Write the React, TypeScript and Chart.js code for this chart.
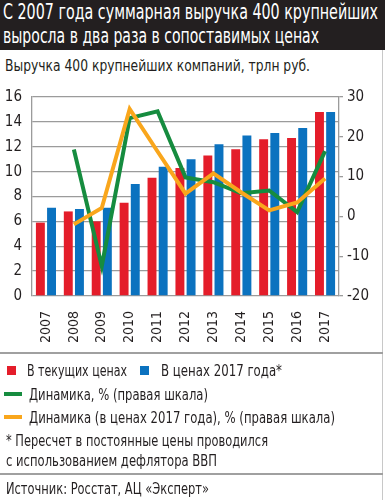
import React, { useEffect, useRef } from "react";
import { Chart, registerables } from "chart.js";

Chart.register(...registerables);

const years = ["2007", "2008", "2009", "2010", "2011", "2012", "2013", "2014", "2015", "2016", "2017"];
const currentPrices = [5.9, 6.8, 6.0, 7.5, 9.5, 10.3, 11.3, 11.8, 12.6, 12.7, 14.8];
const prices2017 = [7.1, 7.0, 7.1, 9.0, 10.4, 11.0, 12.2, 12.9, 13.1, 13.5, 14.8];
const dynamics = [null, 16.8, -12.5, 24.7, 26.4, 9.8, 8.6, 5.8, 6.5, 1.1, 16.4];
const dynamics2017 = [null, -2.0, 2.1, 27.0, 16.3, 5.7, 10.8, 6.0, 1.5, 3.5, 9.5];
const leftTicks = [0, 2, 4, 6, 8, 10, 12, 14, 16];
const rightTicks = [-20, -10, 0, 10, 20, 30];

const RED = "#e41d2a";
const BLUE = "#0b72bf";
const GREEN = "#168c3f";
const ORANGE = "#f9a61c";
const GRID = "#9b9b9b";
const TEXT = "#231f20";
const FONT = "'DejaVu Sans Condensed', 'DejaVu Sans', sans-serif";

let measureCtx: CanvasRenderingContext2D | null = null;
function measure(text: string, size: number): number {
  if (!measureCtx) measureCtx = document.createElement("canvas").getContext("2d");
  if (!measureCtx) return text.length * size * 0.5;
  measureCtx.font = `${size}px ${FONT}`;
  return measureCtx.measureText(text).width;
}

function Fit(props: { text: string; left: number; top: number; width: number; size: number; lh?: number; color?: string }) {
  const { text, left, top, width, size, lh = 20, color = TEXT } = props;
  const sx = width / measure(text, size);
  return (
    <div
      style={{
        position: "absolute",
        left,
        top,
        fontSize: size,
        lineHeight: `${lh}px`,
        color,
        fontFamily: FONT,
        whiteSpace: "nowrap",
        transform: `scaleX(${sx})`,
        transformOrigin: "left top",
      }}
    >
      {text}
    </div>
  );
}

export default function App() {
  const ref = useRef<HTMLCanvasElement | null>(null);

  useEffect(() => {
    document.body.style.margin = "0";
    const canvas = ref.current;
    if (!canvas) return;
    const chart = new Chart(canvas, {
      type: "bar",
      data: {
        labels: years,
        datasets: [
          {
            type: "line",
            label: "Динамика, % (правая шкала)",
            data: dynamics,
            borderColor: GREEN,
            backgroundColor: GREEN,
            borderWidth: 4,
            pointRadius: 0,
            tension: 0,
            yAxisID: "y1",
            order: 1,
          } as any,
          {
            type: "line",
            label: "Динамика (в ценах 2017 года), % (правая шкала)",
            data: dynamics2017,
            borderColor: ORANGE,
            backgroundColor: ORANGE,
            borderWidth: 4,
            pointRadius: 0,
            tension: 0,
            yAxisID: "y1",
            order: 0,
          } as any,
          {
            type: "bar",
            label: "В текущих ценах",
            data: currentPrices,
            backgroundColor: RED,
            yAxisID: "y",
            order: 2,
            categoryPercentage: 0.8,
            barPercentage: 0.8,
          } as any,
          {
            type: "bar",
            label: "В ценах 2017 года*",
            data: prices2017,
            backgroundColor: BLUE,
            yAxisID: "y",
            order: 3,
            categoryPercentage: 0.8,
            barPercentage: 0.8,
          } as any,
        ],
      },
      options: {
        animation: false,
        responsive: false,
        maintainAspectRatio: false,
        layout: { padding: { top: 12, left: 0, right: 0, bottom: 0 } },
        plugins: { legend: { display: false }, tooltip: { enabled: false } },
        scales: {
          x: {
            grid: { display: false },
            border: { display: false },
            ticks: {
              autoSkip: false,
              minRotation: 90,
              maxRotation: 90,
              padding: 7,
              color: TEXT,
              font: { family: FONT, size: 14 },
            },
            afterFit: (s: any) => {
              s.height = 55;
            },
          },
          y: {
            position: "left",
            min: 0,
            max: 16,
            afterBuildTicks: (s: any) => {
              s.ticks = leftTicks.map((v) => ({ value: v }));
            },
            grid: { color: GRID, lineWidth: 1.3, drawTicks: false },
            border: { display: true, color: GRID, width: 1.3 },
            ticks: { padding: 10, color: TEXT, font: { family: FONT, size: 15 } },
            afterFit: (s: any) => {
              s.width = 32;
            },
          },
          y1: {
            position: "right",
            min: -20,
            max: 30,
            afterBuildTicks: (s: any) => {
              s.ticks = rightTicks.map((v) => ({ value: v }));
            },
            grid: { drawOnChartArea: false, drawTicks: true, tickLength: 4, color: GRID, lineWidth: 1.3 },
            border: { display: true, color: GRID, width: 1.3 },
            ticks: { padding: 4, color: TEXT, font: { family: FONT, size: 15 } },
            afterFit: (s: any) => {
              s.width = 46;
            },
          },
        },
      },
    });
    return () => chart.destroy();
  }, []);

  const box = (style: React.CSSProperties) => <div style={{ position: "absolute", ...style }} />;

  return (
    <div style={{ position: "relative", width: 385, height: 500, background: "#ffffff", overflow: "hidden", fontFamily: FONT }}>
      {box({ left: 0, top: 0, width: 385, height: 50, background: "#231f20" })}
      <Fit text="С 2007 года суммарная выручка 400 крупнейших" left={3} top={0} width={375} size={21} lh={24} color="#ffffff" />
      <Fit text="выросла в два раза в сопоставимых ценах" left={3} top={24} width={316} size={21} lh={24} color="#ffffff" />
      <Fit text="Выручка 400 крупнейших компаний, трлн руб." left={5} top={56} width={305} size={15} />

      <canvas ref={ref} width={385} height={273} style={{ position: "absolute", left: 0, top: 78, width: 385, height: 273 }} />

      {box({ left: 382, top: 50, width: 1, height: 450, background: "#c8c8c8" })}
      {box({ left: 0, top: 352, width: 383, height: 2, background: "#a0a0a0" })}
      {box({ left: 0, top: 473, width: 383, height: 2, background: "#a0a0a0" })}

      {box({ left: 7, top: 366, width: 9, height: 9, background: RED })}
      <Fit text="В текущих ценах" left={27} top={361} width={100} size={15} />
      {box({ left: 140, top: 366, width: 9, height: 9, background: BLUE })}
      <Fit text="В ценах 2017 года*" left={161} top={361} width={121} size={15} />

      {box({ left: 4, top: 392, width: 18, height: 4, background: GREEN })}
      <Fit text="Динамика, % (правая шкала)" left={29} top={385} width={179} size={15} />
      {box({ left: 4, top: 415, width: 18, height: 4, background: ORANGE })}
      <Fit text="Динамика (в ценах 2017 года), % (правая шкала)" left={29} top={408} width={306} size={15} />

      <Fit text="* Пересчет в постоянные цены проводился" left={6} top={431} width={262} size={15} />
      <Fit text="с использованием дефлятора ВВП" left={6} top={451} width={211} size={15} />
      <Fit text="Источник: Росстат, АЦ «Эксперт»" left={6} top={479} width={203} size={15} />
    </div>
  );
}
